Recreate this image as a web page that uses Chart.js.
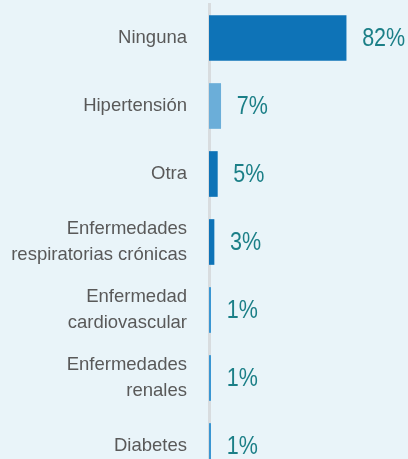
<!DOCTYPE html>
<html>
<head>
<meta charset="utf-8">
<script src="https://cdn.jsdelivr.net/npm/chart.js@4"></script>
<style>
  html, body { margin: 0; padding: 0; background: #e9f4f9; overflow: hidden; width: 408px; height: 459px; }
  #wrap { position: relative; width: 408px; height: 480px; }
</style>
</head>
<body>
<div id="wrap"><canvas id="c"></canvas></div>
<script>
const categories = [
  "Ninguna",
  "Hipertensión",
  "Otra",
  ["Enfermedades", "respiratorias crónicas"],
  ["Enfermedad", "cardiovascular"],
  ["Enfermedades", "renales"],
  "Diabetes"
];
const values = [82, 7, 5, 3, 1, 1, 1];
const valueLabels = ["82%", "7%", "5%", "3%", "1%", "1%", "1%"];
const barColors = ["#0e73b7", "#6baed9", "#0e73b7", "#0e73b7", "#3a96d2", "#3a96d2", "#3a96d2"];

const FONT = "'Liberation Sans', Arial, sans-serif";

const valueLabelPlugin = {
  id: 'valueLabels',
  afterDatasetsDraw(chart) {
    const ctx = chart.ctx;
    const meta = chart.getDatasetMeta(0);
    ctx.save();
    ctx.font = "25px " + FONT;
    ctx.fillStyle = "#1b7f87";
    ctx.textAlign = "left";
    ctx.textBaseline = "middle";
    meta.data.forEach((bar, i) => {
      ctx.save();
      ctx.translate(bar.x + 16, bar.y + 1);
      ctx.scale(0.86, 1);
      ctx.fillText(valueLabels[i], 0, 0);
      ctx.restore();
    });
    ctx.restore();
  }
};

new Chart(document.getElementById('c'), {
  type: 'bar',
  data: {
    labels: categories,
    datasets: [{
      data: values,
      backgroundColor: barColors,
      borderWidth: 0,
      barThickness: 45
    }]
  },
  options: {
    indexAxis: 'y',
    responsive: true,
    maintainAspectRatio: false,
    animation: false,
    layout: { padding: { top: 4, right: 0, bottom: 0, left: 0 } },
    plugins: { legend: { display: false }, tooltip: { enabled: false } },
    scales: {
      x: { display: false, min: 0, max: 119 },
      y: {
        afterFit(scale) {
          scale.width = 209;
          scale.paddingTop = 0;
          scale.paddingBottom = 0;
        },
        grid: { display: false, drawTicks: false },
        border: { display: true, color: "#d8dcdf", width: 3 },
        ticks: {
          padding: 22,
          color: "#595959",
          font: { family: FONT, size: 18.5, lineHeight: 1.39 }
        }
      }
    }
  },
  plugins: [valueLabelPlugin]
});
</script>
</body>
</html>
